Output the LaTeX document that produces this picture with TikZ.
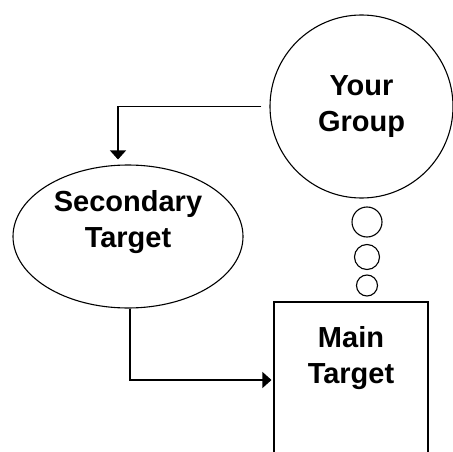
\documentclass[tikz,border=0pt]{standalone}
\usepackage{fontspec}
\setmainfont{Liberation Sans}
\usetikzlibrary{arrows.meta,shapes.geometric}

\begin{document}
\begin{tikzpicture}[
x=1pt, y=-1pt,
line width=1.1pt,
    C/.style = {circle, draw, inner sep=0pt},% group and thought bubbles
    E/.style = {ellipse, draw,% secondary target
                minimum width=230pt, minimum height=143pt},
    B/.style = {rectangle, draw,% main target (runs off the page)
                minimum width=154pt, minimum height=156pt},
    T/.style = {align=center, font=\fontsize{29}{36}\selectfont\bfseries},
    A/.style = {-{Triangle[width=16pt,length=9pt]}},
                        ]
\useasboundingbox (0,0) rectangle (453,452);
\clip (0,0) rectangle (453,452);
\node[C, T, minimum size=183pt] (group) at (361.5,106.5) {Your\\Group};
\node[E] (secondary) at (128,236.5) {};
\node[T] (sectext) at (128,222) {Secondary\\Target};
\node[B] (main) at (351,380) {};
\node[T] (maintext) at (351,358) {Main\\Target};
\foreach \n/\y/\d in {1/222/30,2/257/25,3/285.5/21}% <-- bubbles
    \node[C, minimum size=\d pt] (bubble\n) at (367,\y) {};
\draw[A, shorten <=8pt, shorten >=5pt] (group.west) -| ([xshift=-10pt]secondary.north);
\draw[A, shorten >=2pt] ([xshift=2pt]secondary.south) |- (main.west);
\end{tikzpicture}
\end{document}
